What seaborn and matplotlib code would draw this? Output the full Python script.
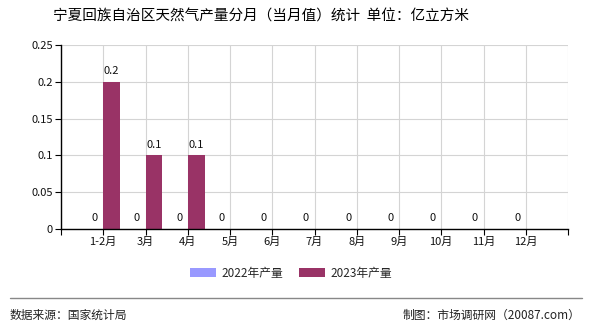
import numpy as np
import pandas as pd
import matplotlib
matplotlib.use("Agg")
import matplotlib.pyplot as plt
import seaborn as sns
from matplotlib.lines import Line2D
from matplotlib.patches import Patch

months = ["1-2月", "3月", "4月", "5月", "6月", "7月", "8月", "9月", "10月", "11月", "12月"]
series_names = ["2022年产量", "2023年产量"]
values_2022 = [0, 0, 0, 0, 0, 0, 0, 0, 0, 0, 0]
values_2023 = [0.2, 0.1, 0.1, None, None, None, None, None, None, None, None]
colors = ["#9999ff", "#993366"]
yticks = [0, 0.05, 0.1, 0.15, 0.2, 0.25]
ytick_labels = ["0", "0.05", "0.1", "0.15", "0.2", "0.25"]
title = "宁夏回族自治区天然气产量分月（当月值）统计  单位：亿立方米"
source = "数据来源：国家统计局"
credit = "制图：市场调研网（20087.com）"

sns.set_theme(style="white")
plt.rcParams['font.family'] = ['Noto Sans CJK SC', 'DejaVu Sans']

rows = []
for m, v in zip(months, values_2022):
    rows.append({"月份": m, "系列": series_names[0], "值": v})
for m, v in zip(months, values_2023):
    rows.append({"月份": m, "系列": series_names[1], "值": np.nan if v is None else v})
df = pd.DataFrame(rows)

fig = plt.figure(figsize=(5.9, 3.3), dpi=100)
ax = fig.add_axes([61/590, 1 - 229/330, (568 - 61)/590, (229 - 45)/330])

sns.barplot(data=df, x="月份", y="值", hue="系列", order=months, hue_order=series_names,
            palette=colors, width=0.8, saturation=1, ax=ax, legend=False, errorbar=None,
            linewidth=0, edgecolor="none")

# value labels, placed from the drawn bars
for cont in ax.containers:
    for bar in cont:
        if bar is None:
            continue
        h = bar.get_height()
        if h is None or np.isnan(h):
            continue
        xc = bar.get_x() + bar.get_width() / 2
        txt = "0" if h == 0 else f"{h:g}"
        ax.annotate(txt, (xc, h), xytext=(0, 4), textcoords="offset points",
                    ha="center", va="bottom", fontsize=8, color="#111111")

ax.set_xlim(-1, 11)
ax.set_ylim(0, 0.25)
ax.set_xticks(range(-1, 12))
ax.set_xticklabels([""] + months + [""], fontsize=8)
ax.set_yticks(yticks)
ax.set_yticklabels(ytick_labels, fontsize=8)
ax.set_xlabel("")
ax.set_ylabel("")
ax.grid(True, color="#d4d4d4", linewidth=0.8)
ax.set_axisbelow(True)
for s in ["top", "right"]:
    ax.spines[s].set_visible(False)
for s in ["left", "bottom"]:
    ax.spines[s].set_color("#000000")
    ax.spines[s].set_linewidth(1.0)
ax.tick_params(axis="both", which="both", direction="out", length=4, width=0.8,
               color="#000000", pad=2, labelcolor="#111111")
ax.tick_params(axis="x", bottom=True)
ax.tick_params(axis="y", left=True)

fig.text(261/590, 1 - 17/330, title, ha="center", va="center", fontsize=10.5, color="#000000")

handles = [Patch(facecolor=colors[0], edgecolor="none"), Patch(facecolor=colors[1], edgecolor="none")]
fig.legend(handles, series_names, loc="center", bbox_to_anchor=(291/590, 1 - 273/330), ncol=2,
           frameon=False, fontsize=8.5, handlelength=2.2, handleheight=0.9, columnspacing=1.3,
           handletextpad=0.5)

fig.add_artist(Line2D([10/590, 582/590], [1 - 298/330, 1 - 298/330], color="#888888", linewidth=1.0))
fig.text(10/590, 1 - 315/330, source, ha="left", va="center", fontsize=8.5, color="#222222")
fig.text(580/590, 1 - 315/330, credit, ha="right", va="center", fontsize=8.5, color="#222222")

fig.savefig("out.png", dpi=100)
